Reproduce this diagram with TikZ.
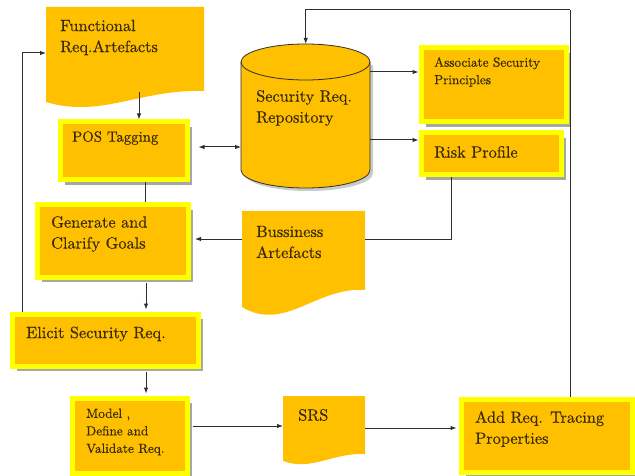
\documentclass[tikz,border=0pt]{standalone}
\usepackage{fontspec}
\setmainfont{lmroman10-regular.otf}[FakeBold=0.4]
\usetikzlibrary{arrows.meta,shadows,calc}
\definecolor{gold}{HTML}{FFC000}
\definecolor{yel}{HTML}{FFFF00}
\definecolor{shad}{HTML}{A3AAA0}
\definecolor{txtc}{HTML}{3A2A0C}
\definecolor{linec}{HTML}{2E2E2E}
\newcommand\docshp[5]{%
  \fill[gold] (#1,#2) -- (#3,#2) -- (#3,{#4-#5})
    .. controls ({#1+0.6*(#3-#1)},{#4-1.2*#5}) and ({#1+0.35*(#3-#1)},{#4+1.5*#5}) .. (#1,#4) -- cycle;}
\begin{document}
\begin{tikzpicture}[x=1pt,y=-1pt,
  box/.style={draw=yel, fill=gold, line width=5pt, inner sep=0, anchor=north west,
    drop shadow={shadow xshift=5pt, shadow yshift=-5pt, fill=shad, opacity=1}},
  area/.style={inner sep=0, anchor=north west},
  txt/.style={inner sep=0, anchor=west, align=left, text=txtc, font=\fontsize{16.3}{21}\selectfont},
  small/.style={font=\fontsize{13.2}{17.5}\selectfont},
  ln/.style={draw=linec, line width=1pt},
  arr/.style={ln, -{Latex[length=6pt,width=4.5pt]}},
  darr/.style={ln, {Latex[length=6pt,width=4.5pt]}-{Latex[length=6pt,width=4.5pt]}}]
\useasboundingbox (0,0) rectangle (635,476);
\fill[white] (0,0) rectangle (635,476);

% document shapes
\docshp{46}{7}{204}{102}{11}
\node[area, minimum width=158, minimum height=85] (func) at (46,7) {};
\docshp{242}{211}{365}{307}{17}
\node[area, minimum width=123, minimum height=80] (bus) at (242,211) {};
\docshp{283}{396}{365}{461}{7}
\node[area, minimum width=82, minimum height=60] (srs) at (283,396) {};

% cylinder
\fill[shad!60] (244,65) -- (244,173) arc[start angle=180, end angle=0, x radius=64.5, y radius=18] -- (373,65) -- cycle;
\filldraw[fill=gold, draw=linec, line width=0.8pt] (241,62) -- (241,170)
  arc[start angle=180, end angle=0, x radius=64.5, y radius=18] -- (370,62)
  arc[start angle=0, end angle=-180, x radius=64.5, y radius=18] -- cycle;
\draw[linec, line width=0.8pt] (241,62) arc[start angle=180, end angle=0, x radius=64.5, y radius=18];
\node[area, minimum width=129, minimum height=144] (repo) at (241,44) {};

% boxes
\node[box, minimum width=127, minimum height=58] (pos) at (57.5,119.5) {};
\node[box, minimum width=151, minimum height=72] (gen) at (34.5,202.5) {};
\node[box, minimum width=186, minimum height=52] (eli) at (9.5,311.5) {};
\node[box, minimum width=115, minimum height=75] (mod) at (69.5,395.5) {};
\node[box, minimum width=171, minimum height=73] (add) at (458.5,396.5) {};
\node[box, minimum width=145, minimum height=74] (asc) at (418.5,45.5) {};
\node[box, minimum width=140, minimum height=42] (risk) at (418.5,130.5) {};

% texts
\node[txt] (funcT) at (60,37.5) {Functional\\Req.Artefacts};
\node[txt, font=\fontsize{14.8}{19}\selectfont] (posT) at (72,138) {POS Tagging};
\node[txt] (genT) at (51,234) {Generate and\\Clarify Goals};
\node[txt] (eliT) at (26,334) {Elicit Security Req.};
\node[txt, small] (modT) at (86,432) {Model ,\\Define and\\Validate Req.};
\node[txt] (srsT) at (298,415) {SRS};
\node[txt] (addT) at (475,429) {Add Req. Tracing\\Properties};
\node[txt] (busT) at (256,242) {Bussiness\\Artefacts};
\node[txt] (repoT) at (256,108) {Security Req.\\Repository};
\node[txt, small] (ascT) at (434,72) {Associate Security\\Principles};
\node[txt] (riskT) at (434,152) {Risk Profile};

% helper coordinates
\coordinate (c139) at (139,0);
\coordinate (c145) at (145,0);
\coordinate (c146) at (146,0);
\coordinate (y72) at (0,72);
\coordinate (y140) at (0,140);
\coordinate (y147) at (0,147);
\coordinate (y239) at (0,239);
\coordinate (y426) at (0,426);
\coordinate (y428) at (0,428);
\coordinate (c451) at (451,0);
\coordinate (lf) at (22,53);
\coordinate (tx) at (570,10);

% connectors
\draw[arr] (func.south -| c139) -- (pos.north -| c139);
\draw[darr, shorten <=9pt] (pos.east |- y147) -- (repo.west |- y147);
\draw[ln] (pos.south -| c145) -- (gen.north -| c145);
\draw[arr, shorten <=3pt, shorten >=2pt] (gen.south -| c146) -- (eli.north -| c146);
\draw[arr, shorten <=3pt, shorten >=2pt] (eli.south -| c146) -- (mod.north -| c146);
\draw[arr] (repo.east |- y72) -- (asc.west |- y72);
\draw[arr] (repo.east |- y140) -- (risk.west |- y140);
\draw[ln] (risk.south -| c451) -- (c451 |- y239) -- (bus.east |- y239);
\draw[arr, shorten >=4.5pt] (bus.west |- y239) -- (gen.east |- y239);
\draw[arr, shorten <=3pt] (mod.east |- y426) -- (srs.west |- y426);
\draw[arr, shorten >=2pt] (srs.east |- y428) -- (add.west |- y428);
\draw[ln] (eli.north -| lf) -- (lf);
\draw[arr] (lf) -- (func.west |- lf);
\draw[ln] (add.north -| tx) -- (tx);
\draw[arr] (tx) -| (repo.north);
\end{tikzpicture}
\end{document}
